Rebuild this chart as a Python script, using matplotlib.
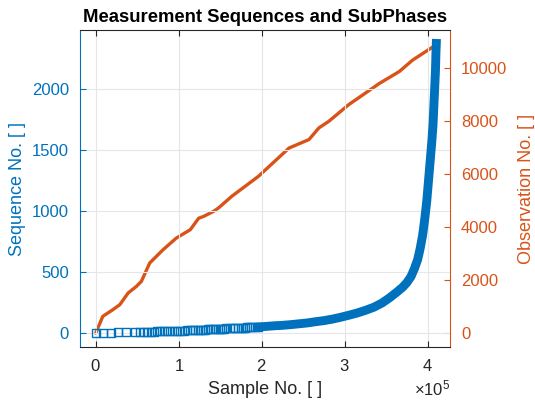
import matplotlib
matplotlib.use("Agg")
import matplotlib.pyplot as plt
from matplotlib.ticker import ScalarFormatter

plt.rcParams['font.family'] = ['Liberation Sans', 'DejaVu Sans']
plt.rcParams['mathtext.fontset'] = 'custom'
plt.rcParams['mathtext.rm'] = 'Liberation Sans'

BLUE = '#0072BD'
ORANGE = '#D95319'
DARK = '#262626'

# sequence start sample vs. sequence number (sparse early sequences)
seq_sample_early = [0, 9000, 18000, 27000, 36000, 47000, 53000, 58000, 62000,
                    66000, 70000, 74000, 78000, 82000, 86000, 90000, 94000,
                    98000, 102000, 106000, 110000, 114000, 117000, 120000,
                    123000, 126000, 129000, 132000, 135000, 138000, 141000,
                    144000, 147000, 150000, 152000, 154500, 157000, 162000,
                    165000, 168000, 172000, 174500, 177000, 179500, 182000,
                    184500, 187000, 192000, 195000]
seq_no_early = list(range(1, len(seq_sample_early) + 1))

# later sequences get short, markers merge into a solid band
seq_sample_late = [198000, 200000, 202000, 204000, 206000, 208000, 210000,
                   212000, 214000, 216000, 218000, 222000, 226000, 235000,
                   245000, 255000, 265000, 275000, 285000, 295000, 305000,
                   315000, 325000, 335000, 345000, 354000, 363000, 370000,
                   375000, 380000, 384000, 388000, 391000, 394000, 396500,
                   399000, 401000, 403000, 405000, 406500, 407500, 408500,
                   409500, 410000, 410500]
seq_no_late = [50, 51, 52, 53, 54, 55, 56, 57, 58, 59, 60, 61, 63, 68, 75,
               82, 92, 101, 113, 128, 145, 163, 185, 210, 245, 287, 335, 375,
               412, 462, 525, 600, 690, 800, 930, 1080, 1240, 1400, 1560, 1700,
               1850, 2000, 2150, 2280, 2370]

# observation (subphase) number vs. sample
obs_sample = [0, 8500, 20600, 29000, 39000, 49000, 55000, 65000, 81000,
              97000, 114000, 124000, 130000, 142000, 148000, 164000, 196000,
              233000, 257000, 269000, 281000, 305000, 342000, 366000, 382000,
              410000]
obs_no = [0, 630, 880, 1070, 1510, 1760, 1950, 2640, 3140, 3580, 3900, 4330,
          4400, 4590, 4720, 5160, 5910, 6980, 7300, 7740, 7990, 8620, 9420,
          9870, 10300, 10870]

fig = plt.figure(figsize=(5.35, 4.0), dpi=100)
ax1 = fig.add_axes([80 / 535, 1 - 347 / 400, 370 / 535, 317 / 400])
ax2 = ax1.twinx()

ax2.plot(obs_sample, obs_no, color=ORANGE, lw=2.4)

ax1.plot(seq_sample_early, seq_no_early, ls='none', marker='s', ms=5.2,
         mfc='none', mec=BLUE, mew=1.0)
ax1.plot(seq_sample_late, seq_no_late, color=BLUE, lw=6.4,
         solid_capstyle='projecting', solid_joinstyle='round')

ax1.set_zorder(ax2.get_zorder() + 1)
ax1.patch.set_visible(False)

ax1.set_xlim(-19000, 427000)
ax1.set_ylim(-115, 2480)
ax2.set_ylim(-528, 11434)
ax1.set_xticks([0, 100000, 200000, 300000, 400000])
ax1.set_yticks([0, 500, 1000, 1500, 2000])
ax2.set_yticks([0, 2000, 4000, 6000, 8000, 10000])

fmt = ScalarFormatter(useMathText=True)
fmt.set_powerlimits((0, 0))
ax1.xaxis.set_major_formatter(fmt)
ax1.xaxis.offsetText.set_fontsize(12)
ax1.xaxis.offsetText.set_color(DARK)

ax1.grid(True, color='#e3e6ea', lw=0.8)

for s in ['top', 'bottom']:
    ax1.spines[s].set_color(DARK)
    ax1.spines[s].set_linewidth(0.8)
ax1.spines['left'].set_color(BLUE)
ax1.spines['right'].set_visible(False)
for s in ['top', 'bottom', 'left']:
    ax2.spines[s].set_visible(False)
ax2.spines['right'].set_color(ORANGE)

ax1.tick_params(axis='x', direction='in', top=True, length=4, width=0.8,
                colors=DARK, labelsize=12, pad=8)
ax1.tick_params(axis='y', direction='in', length=4, width=0.8,
                colors=BLUE, labelsize=12, pad=8)
ax2.tick_params(axis='y', direction='in', length=4, width=0.8,
                colors=ORANGE, labelsize=12, pad=8)

ax1.set_xlabel('Sample No. [ ]', fontsize=13, color=DARK, labelpad=5)
ax1.set_ylabel('Sequence No. [ ]', fontsize=13, color=BLUE, labelpad=4)
ax2.set_ylabel('Observation No. [ ]', fontsize=13, color=ORANGE, labelpad=8)
ax1.set_title('Measurement Sequences and SubPhases', fontsize=13.3,
              fontweight='bold', color='black', pad=6)

fig.savefig('out.png', dpi=100)
